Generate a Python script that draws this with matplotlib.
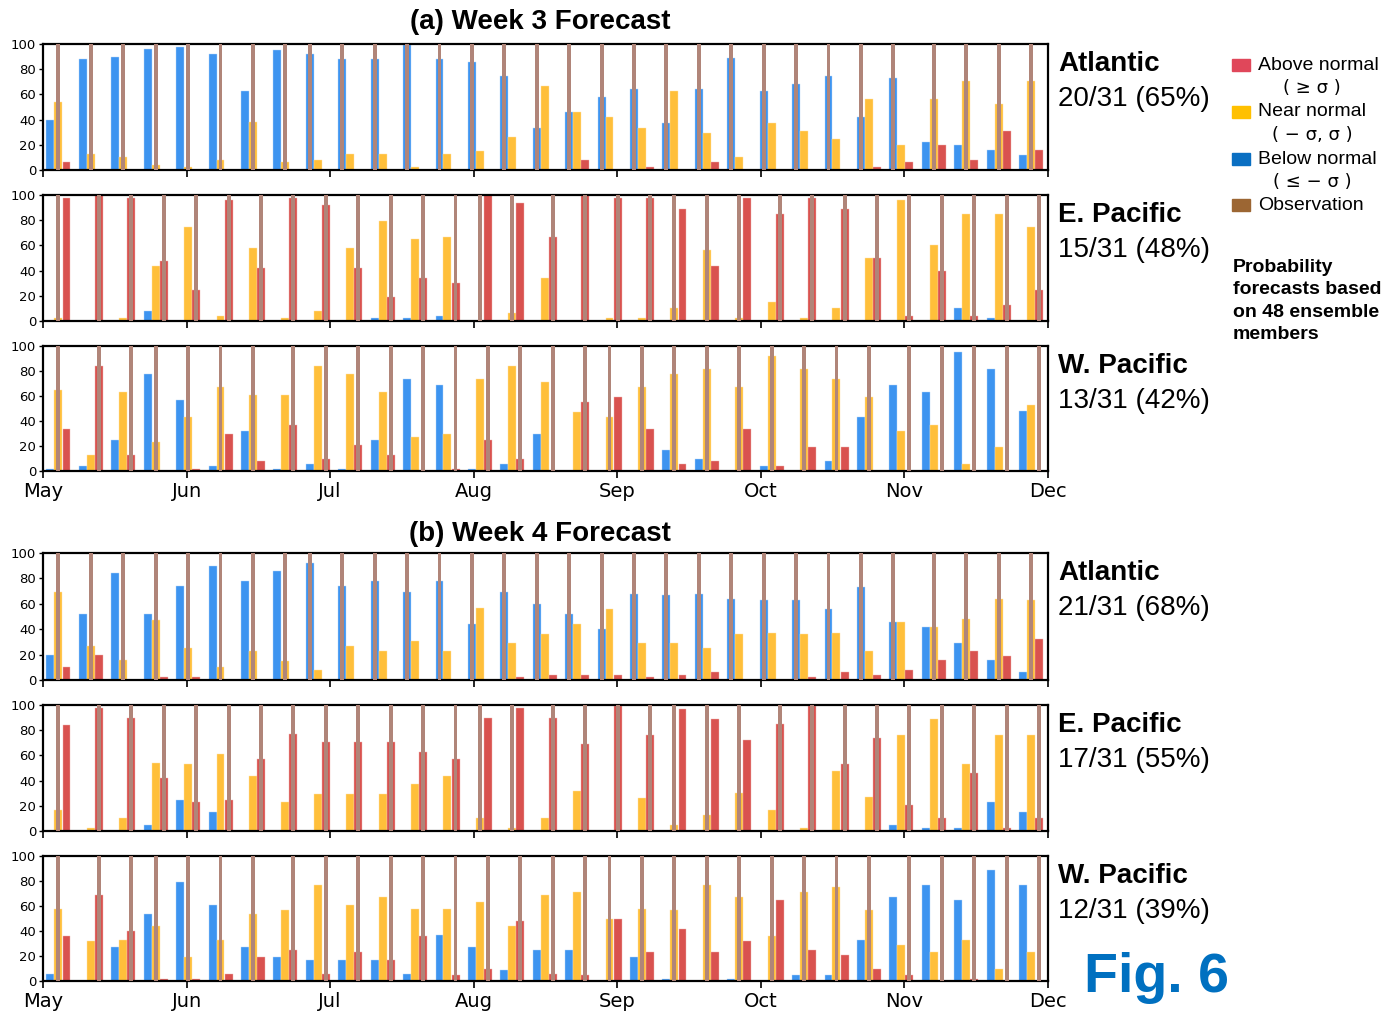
import numpy as np
import matplotlib.pyplot as plt
from matplotlib.patches import Rectangle

months = ["May", "Jun", "Jul", "Aug", "Sep", "Oct", "Nov", "Dec"]
nweek = 31

# ---- week 3 ----
atl3_below = [40, 88, 90, 96, 98, 92, 63, 95, 92, 88, 88, 99, 88, 86, 75, 33, 46, 58, 64, 37, 64, 89, 63, 68, 75, 42, 73, 22, 20, 16, 12]
atl3_near = [54, 13, 10, 4, 2, 8, 38, 6, 8, 13, 13, 2, 13, 15, 26, 67, 46, 42, 33, 63, 29, 10, 37, 31, 25, 56, 20, 56, 71, 52, 71]
atl3_above = [6, 0, 0, 0, 0, 0, 0, 0, 0, 0, 0, 0, 0, 0, 0, 0, 8, 0, 2, 0, 6, 0, 0, 0, 0, 2, 6, 20, 8, 31, 16]
atl3_obs = "NNNNNNNNBBBBBBBBBBBBBBBBBBBNNNN"

epa3_below = [0, 0, 0, 8, 0, 0, 0, 0, 0, 0, 2, 2, 4, 0, 0, 0, 0, 0, 0, 0, 0, 0, 0, 0, 0, 0, 0, 0, 10, 2, 0]
epa3_near = [2, 0, 2, 44, 75, 4, 58, 2, 8, 58, 79, 65, 67, 0, 6, 34, 0, 2, 2, 10, 56, 2, 15, 2, 10, 50, 96, 60, 85, 85, 75]
epa3_above = [98, 100, 98, 48, 25, 96, 42, 98, 92, 42, 19, 34, 30, 100, 94, 67, 100, 98, 98, 89, 44, 98, 85, 98, 89, 50, 4, 40, 4, 13, 25]
epa3_obs = "NAAAAAAAAAAAANNAAAANNNAAAAAAAAA"

wpa3_below = [2, 4, 25, 78, 57, 4, 32, 2, 6, 2, 25, 74, 69, 2, 6, 30, 0, 0, 0, 17, 10, 0, 4, 0, 8, 43, 69, 63, 95, 82, 48]
wpa3_near = [65, 13, 63, 23, 43, 67, 61, 61, 84, 78, 63, 27, 30, 74, 84, 71, 47, 43, 67, 78, 82, 67, 92, 82, 74, 59, 32, 37, 6, 19, 53]
wpa3_above = [34, 84, 13, 0, 2, 30, 8, 37, 10, 21, 13, 0, 2, 25, 10, 0, 55, 59, 34, 6, 8, 34, 4, 19, 19, 0, 0, 0, 0, 0, 0]
wpa3_obs = "NAANNNNAAAAAAAAAANNNNNNNNNAAAAA"

# ---- week 4 ----
atl4_below = [20, 52, 84, 52, 74, 90, 78, 86, 92, 74, 78, 69, 78, 44, 69, 60, 52, 40, 68, 67, 68, 64, 63, 63, 56, 73, 46, 42, 29, 16, 6]
atl4_near = [69, 27, 16, 47, 25, 10, 23, 15, 8, 27, 23, 31, 23, 57, 29, 36, 44, 56, 29, 29, 25, 36, 37, 36, 37, 23, 46, 42, 48, 64, 63]
atl4_above = [10, 20, 0, 2, 2, 0, 0, 0, 0, 0, 0, 0, 0, 0, 2, 4, 4, 4, 2, 4, 6, 0, 0, 2, 6, 4, 8, 16, 23, 19, 32]
atl4_obs = "NNNNNNNNBBBBBBBBBBBBBBBBBBBNNNN"

epa4_below = [0, 0, 0, 5, 25, 15, 0, 0, 0, 0, 0, 0, 0, 0, 0, 0, 0, 0, 0, 0, 0, 0, 0, 0, 0, 0, 5, 2, 2, 23, 15]
epa4_near = [17, 2, 10, 54, 53, 61, 44, 23, 29, 29, 29, 37, 44, 10, 2, 10, 32, 0, 26, 5, 13, 30, 17, 2, 48, 27, 76, 89, 53, 76, 76]
epa4_above = [84, 98, 90, 42, 23, 25, 57, 77, 71, 71, 71, 63, 57, 90, 98, 90, 69, 99, 76, 97, 89, 72, 85, 99, 53, 74, 21, 10, 46, 2, 10]
epa4_obs = "NAAAAAAAAAAAANNAAAANNNAAAAAAAAA"

wpa4_below = [6, 0, 27, 54, 79, 61, 27, 19, 17, 17, 17, 6, 37, 27, 9, 25, 25, 0, 19, 2, 0, 2, 0, 5, 5, 33, 67, 77, 65, 89, 77]
wpa4_near = [58, 32, 33, 44, 19, 33, 54, 57, 77, 61, 67, 58, 58, 63, 44, 69, 71, 50, 58, 57, 77, 67, 36, 71, 75, 57, 29, 23, 33, 10, 23]
wpa4_above = [36, 69, 40, 2, 2, 6, 19, 25, 6, 23, 17, 36, 5, 10, 48, 6, 5, 50, 23, 42, 23, 32, 65, 25, 21, 10, 5, 0, 2, 0, 0]
wpa4_obs = "NAANNNNAAAAAAAAAANNNNNNNNNAAAAA"

basins = ["Atlantic", "E. Pacific", "W. Pacific"]
scores3 = ["20/31 (65%)", "15/31 (48%)", "13/31 (42%)"]
scores4 = ["21/31 (68%)", "17/31 (55%)", "12/31 (39%)"]

c_blue = "#3d94f0"
c_yellow = "#ffbf3a"
c_red = "#d9524f"
c_obs = "#b08579"
offs = {"B": 0.23, "N": 0.475, "A": 0.725}

fig = plt.figure(figsize=(13.85, 10.14), dpi=100)
W, H = 1385.0, 1014.0


def panel(top, bot, below, near, above, obs, name, score, xlabels):
    ax = fig.add_axes([43 / W, 1 - bot / H, (1048 - 43) / W, (bot - top) / H])
    x = np.arange(nweek)
    w = 0.245
    ax.bar(x + offs["B"], below, w, color=c_blue, edgecolor="#b5d6fa", linewidth=0.3, zorder=2)
    ax.bar(x + offs["N"], near, w, color=c_yellow, edgecolor="#ffe2a8", linewidth=0.3, zorder=2)
    ax.bar(x + offs["A"], above, w, color=c_red, edgecolor="#f0b3b1", linewidth=0.3, zorder=2)
    ox = [i + offs[o] for i, o in enumerate(obs)]
    ax.bar(ox, [100] * nweek, 0.12, color=c_obs, linewidth=0, zorder=3)
    ax.set_xlim(0, 31)
    ax.set_ylim(0, 100)
    ax.set_yticks(range(0, 101, 20))
    ax.set_xticks(np.arange(8) * 31 / 7)
    ax.tick_params(axis="y", labelsize=9.5, length=3, width=1, pad=2)
    ax.tick_params(axis="x", length=5, width=1.2, pad=3)
    if xlabels:
        ax.set_xticklabels(months, fontsize=14)
    else:
        ax.set_xticklabels([])
    for s in ax.spines.values():
        s.set_linewidth(1.6)
    fig.text(1058 / W, 1 - (top + 20) / H, name, fontsize=20, fontweight="bold",
             ha="left", va="center", family="Liberation Sans")
    fig.text(1058 / W, 1 - (top + 55) / H, score, fontsize=20,
             ha="left", va="center", family="Liberation Sans")


panel(44, 170, atl3_below, atl3_near, atl3_above, atl3_obs, basins[0], scores3[0], False)
panel(195, 321, epa3_below, epa3_near, epa3_above, epa3_obs, basins[1], scores3[1], False)
panel(346, 471, wpa3_below, wpa3_near, wpa3_above, wpa3_obs, basins[2], scores3[2], True)
panel(553, 680, atl4_below, atl4_near, atl4_above, atl4_obs, basins[0], scores4[0], False)
panel(705, 831, epa4_below, epa4_near, epa4_above, epa4_obs, basins[1], scores4[1], False)
panel(856, 981, wpa4_below, wpa4_near, wpa4_above, wpa4_obs, basins[2], scores4[2], True)

fig.text(540 / W, 1 - 22 / H, "(a) Week 3 Forecast", fontsize=20, fontweight="bold",
         ha="center", va="center", family="Liberation Sans")
fig.text(540 / W, 1 - 534 / H, "(b) Week 4 Forecast", fontsize=20, fontweight="bold",
         ha="center", va="center", family="Liberation Sans")

# legend on the right
leg = [("#e0475a", "Above normal", "( \u2265 \u03c3 )", 65),
       ("#ffc000", "Near normal", "( \u2212 \u03c3, \u03c3 )", 112),
       ("#0a6fc2", "Below normal", "( \u2264 \u2212 \u03c3 )", 159),
       ("#9c6633", "Observation", None, 205)]
for col, lab, sub, yy in leg:
    fig.patches.append(Rectangle((1232 / W, 1 - (yy + 6) / H), 18 / W, 12 / H,
                                 transform=fig.transFigure, color=col))
    fig.text(1258 / W, 1 - yy / H, lab, fontsize=14, ha="left", va="center",
             family="Liberation Sans")
    if sub:
        fig.text(1312 / W, 1 - (yy + 23) / H, sub, fontsize=13, ha="center", va="center",
                 family="DejaVu Sans")

fig.text(1233 / W, 1 - 301 / H, "Probability\nforecasts based\non 48 ensemble\nmembers",
         fontsize=14, fontweight="bold", ha="left", va="center", linespacing=1.42,
         family="Liberation Sans")
fig.text(1156 / W, 1 - 978 / H, "Fig. 6", fontsize=40, fontweight="bold", color="#0070c0",
         ha="center", va="center", family="Liberation Sans")

plt.savefig("out.png", dpi=100)
